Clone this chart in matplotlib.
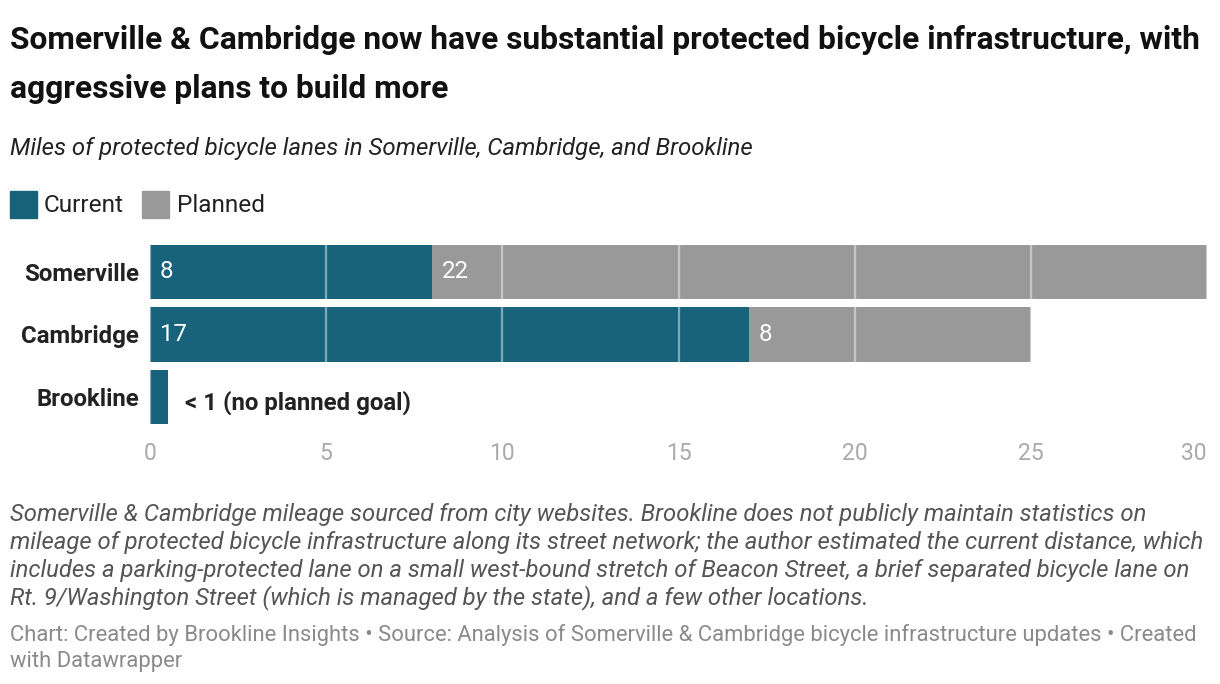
import matplotlib
matplotlib.use("Agg")
import matplotlib.pyplot as plt
from matplotlib.patches import Rectangle

plt.rcParams['font.family'] = ['Roboto', 'DejaVu Sans']

cities = ["Somerville", "Cambridge", "Brookline"]
current = [8, 17, 0.5]
planned = [22, 8, 0]
current_labels = ["8", "17", ""]
planned_labels = ["22", "8", ""]
brookline_note = "< 1 (no planned goal)"
xticks = [0, 5, 10, 15, 20, 25, 30]

C_CUR = "#18627b"
C_PLAN = "#999999"

W, H = 1220, 684
fig = plt.figure(figsize=(W / 100, H / 100), dpi=100)

def fx(px):
    return px / W

def fy(py):
    return 1 - py / H

FS = 17.3

# Title / subtitle
fig.text(fx(10), fy(40), "Somerville & Cambridge now have substantial protected bicycle infrastructure, with",
         fontsize=22.9, fontweight="bold", color="#111111", va="center", ha="left")
fig.text(fx(10), fy(89), "aggressive plans to build more",
         fontsize=22.9, fontweight="bold", color="#111111", va="center", ha="left")
fig.text(fx(10), fy(148), "Miles of protected bicycle lanes in Somerville, Cambridge, and Brookline",
         fontsize=17.3, style="italic", color="#222222", va="center", ha="left")

# Legend
fig.patches.append(Rectangle((fx(10), fy(218)), fx(27), 27 / H, transform=fig.transFigure,
                             color=C_CUR, figure=fig))
fig.text(fx(44), fy(205), "Current", fontsize=17.6, color="#222222", va="center", ha="left")
fig.patches.append(Rectangle((fx(142), fy(218)), fx(27), 27 / H, transform=fig.transFigure,
                             color=C_PLAN, figure=fig))
fig.text(fx(177), fy(205), "Planned", fontsize=17.6, color="#222222", va="center", ha="left")

# Axes
top_px, bot_px = 240.75, 428.25
ax = fig.add_axes([fx(150), fy(bot_px), fx(1207) - fx(150), (bot_px - top_px) / H])
y = list(range(len(cities)))
bh = 0.87
ax.barh(y, current, height=bh, color=C_CUR, zorder=2)
ax.barh(y, planned, left=current, height=bh, color=C_PLAN, zorder=2)

for i in y:
    if current_labels[i]:
        ax.text(0.28, i, current_labels[i], color="white", fontsize=FS, va="center", ha="left", zorder=4)
    if planned_labels[i]:
        ax.text(current[i] + 0.28, i, planned_labels[i], color="white", fontsize=FS, va="center",
                ha="left", zorder=4)
ax.text(current[2] + 0.5, 2.1, brookline_note, fontsize=FS, fontweight="bold", color="#222222",
        va="center", ha="left", zorder=4)

for xv in xticks:
    ax.axvline(xv, color="white", alpha=0.45, lw=1.6, zorder=3)

ax.set_xlim(0, 30)
ax.set_ylim(2.5, -0.5)
ax.set_yticks(y)
ax.set_yticklabels(cities, fontsize=FS, fontweight="bold", color="#222222")
ax.set_xticks(xticks)
ax.set_xticklabels([str(v) for v in xticks], fontsize=16.5, color="#aaaaaa")
ax.get_xticklabels()[-1].set_horizontalalignment("right")
ax.tick_params(axis="both", length=0)
ax.tick_params(axis="x", pad=10)
ax.tick_params(axis="y", pad=8)
for s in ax.spines.values():
    s.set_visible(False)

# Notes
notes = [
    "Somerville & Cambridge mileage sourced from city websites. Brookline does not publicly maintain statistics on",
    "mileage of protected bicycle infrastructure along its street network; the author estimated the current distance, which",
    "includes a parking-protected lane on a small west-bound stretch of Beacon Street, a brief separated bicycle lane on",
    "Rt. 9/Washington Street (which is managed by the state), and a few other locations.",
]
for k, line in enumerate(notes):
    fig.text(fx(10), fy(515 + 27.6 * k), line, fontsize=17.2, style="italic", color="#555555",
             va="center", ha="left")

footer = [
    "Chart: Created by Brookline Insights \u2022 Source: Analysis of Somerville & Cambridge bicycle infrastructure updates \u2022 Created",
    "with Datawrapper",
]
for k, line in enumerate(footer):
    fig.text(fx(10), fy(635 + 26 * k), line, fontsize=15.8, color="#8a8a8a", va="center", ha="left")

fig.savefig("out.png", dpi=100, facecolor="white")
